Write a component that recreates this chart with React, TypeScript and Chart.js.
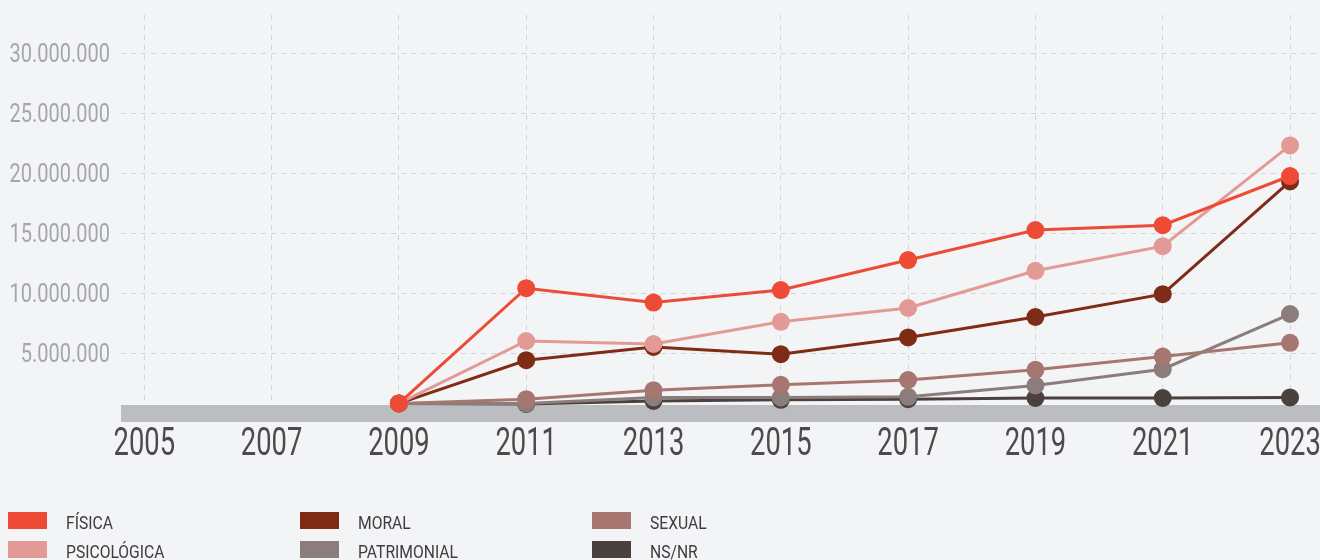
import React, { useEffect, useRef } from 'react';
import { Chart, registerables } from 'chart.js';

Chart.register(...registerables);

const FONT = 'Roboto, "Liberation Sans", sans-serif';

const years = [2009, 2011, 2013, 2015, 2017, 2019, 2021, 2023];
const xTickYears = [2005, 2007, 2009, 2011, 2013, 2015, 2017, 2019, 2021, 2023];
const yTickValues = [0, 5000000, 10000000, 15000000, 20000000, 25000000, 30000000];

const fisica = [800000, 10400000, 9200000, 10250000, 12750000, 15250000, 15650000, 19750000];
const psicologica = [800000, 6000000, 5750000, 7600000, 8750000, 11850000, 13900000, 22300000];
const moral = [800000, 4400000, 5500000, 4900000, 6300000, 8000000, 9900000, 19300000];
const sexual = [800000, 1150000, 1900000, 2350000, 2750000, 3600000, 4700000, 5850000];
const patrimonial = [800000, 800000, 1300000, 1300000, 1350000, 2300000, 3650000, 8250000];
const nsnr = [800000, 750000, 1000000, 1100000, 1150000, 1250000, 1250000, 1300000];

const seriesNames = ['FÍSICA', 'PSICOLÓGICA', 'MORAL', 'SEXUAL', 'PATRIMONIAL', 'NS/NR'];
const seriesValues = [fisica, psicologica, moral, sexual, patrimonial, nsnr];
const seriesColors = ['#ED4B36', '#E39A97', '#7E2C16', '#A87670', '#8A7D7C', '#4A413F'];

const legendOrder = ['FÍSICA', 'PSICOLÓGICA', 'MORAL', 'PATRIMONIAL', 'SEXUAL', 'NS/NR'];

const formatThousands = (v: number) =>
  String(Math.round(v)).replace(/\B(?=(\d{3})+(?!\d))/g, '.');

// Thick grey baseline band along the x axis (drawn under the data).
const baselineBandPlugin = {
  id: 'baselineBand',
  beforeDatasetsDraw(chart: any) {
    const ctx = chart.ctx;
    const area = chart.chartArea;
    const y0 = chart.scales.y.getPixelForValue(0);
    ctx.save();
    ctx.fillStyle = '#bcbdc1';
    ctx.fillRect(area.left, y0 - 8, chart.width - area.left, 17);
    ctx.restore();
  },
};

// Draws axis tick labels in a narrowed (condensed) style, positioned via the scales.
const condensedTicksPlugin = {
  id: 'condensedTicks',
  afterDraw(chart: any) {
    const ctx = chart.ctx;
    const xs = chart.scales.x;
    const ys = chart.scales.y;
    const area = chart.chartArea;
    ctx.save();
    ctx.fillStyle = '#4b4b4d';
    ctx.font = '400 38px ' + FONT;
    ctx.textAlign = 'center';
    ctx.textBaseline = 'alphabetic';
    xTickYears.forEach((v) => {
      const px = xs.getPixelForValue(v);
      ctx.save();
      ctx.translate(px, area.bottom + 42);
      ctx.scale(0.72, 1);
      ctx.fillText(String(v), 0, 0);
      ctx.restore();
    });
    ctx.fillStyle = '#a5a6aa';
    ctx.font = '400 25px ' + FONT;
    ctx.textAlign = 'right';
    yTickValues.forEach((v) => {
      if (v === 0) return;
      const py = ys.getPixelForValue(v);
      ctx.save();
      ctx.translate(area.left - 11, py + 9);
      ctx.scale(0.8, 1);
      ctx.fillText(formatThousands(v), 0, 0);
      ctx.restore();
    });
    ctx.restore();
  },
};

export default function App() {
  const canvasRef = useRef<HTMLCanvasElement | null>(null);

  useEffect(() => {
    document.body.style.margin = '0';
    document.body.style.background = '#f3f4f5';
    const canvas = canvasRef.current;
    if (!canvas) return;
    const chart = new Chart(canvas, {
      type: 'line',
      data: {
        datasets: seriesNames.map((name, i) => ({
          label: name,
          data: years.map((y, j) => ({ x: y, y: seriesValues[i][j] })),
          borderColor: seriesColors[i],
          backgroundColor: seriesColors[i],
          pointBackgroundColor: seriesColors[i],
          borderWidth: 3,
          pointRadius: 9,
          pointHoverRadius: 9,
          pointBorderWidth: 0,
          tension: 0,
          fill: false,
        })),
      },
      options: {
        animation: false,
        responsive: false,
        maintainAspectRatio: false,
        layout: { padding: { top: 15, left: 0, right: 0, bottom: 147 } },
        plugins: {
          legend: { display: false },
          tooltip: { enabled: false },
        },
        scales: {
          x: {
            type: 'linear',
            min: 2004.634,
            max: 2023.471,
            afterBuildTicks: (scale: any) => {
              scale.ticks = xTickYears.map((v) => ({ value: v }));
            },
            afterFit: (scale: any) => {
              scale.height = 0;
              scale.paddingLeft = 0;
              scale.paddingRight = 0;
            },
            grid: {
              display: true,
              drawTicks: false,
              color: '#d3d4d7',
              lineWidth: 1,
            },
            border: { display: false, dash: [5, 5] },
            ticks: { display: false },
          },
          y: {
            type: 'linear',
            min: 0,
            max: 33170000,
            afterBuildTicks: (scale: any) => {
              scale.ticks = yTickValues.map((v) => ({ value: v }));
            },
            afterFit: (scale: any) => {
              scale.width = 121;
            },
            grid: {
              display: true,
              drawTicks: false,
              color: (ctx: any) => (ctx.tick && ctx.tick.value === 0 ? 'rgba(0,0,0,0)' : '#d3d4d7'),
              lineWidth: 1,
            },
            border: { display: false, dash: [5, 5] },
            ticks: { display: false },
          },
        },
      },
      plugins: [baselineBandPlugin, condensedTicksPlugin],
    } as any);
    return () => chart.destroy();
  }, []);

  return (
    <div style={{ position: 'relative', width: 1320, height: 560, overflow: 'hidden', background: '#f3f4f5' }}>
      <canvas ref={canvasRef} width={1329} height={560} style={{ position: 'absolute', left: 0, top: 0, width: 1329, height: 560 }} />
      {legendOrder.map((name, k) => {
        const col = Math.floor(k / 2);
        const row = k % 2;
        const idx = seriesNames.indexOf(name);
        return (
          <div
            key={name}
            style={{
              position: 'absolute',
              left: 8 + col * 292,
              top: 512 + row * 29,
              height: 17,
              display: 'flex',
              alignItems: 'flex-start',
            }}
          >
            <div style={{ width: 39, height: 17, background: seriesColors[idx], flex: '0 0 auto' }} />
            <span
              style={{
                display: 'inline-block',
                marginLeft: 19,
                fontFamily: FONT,
                fontSize: 18,
                color: '#3d3d3f',
                lineHeight: '17px',
                whiteSpace: 'nowrap',
                position: 'relative',
                top: 2,
                transform: 'scaleX(0.87)',
                transformOrigin: 'left center',
              }}
            >
              {name}
            </span>
          </div>
        );
      })}
    </div>
  );
}
